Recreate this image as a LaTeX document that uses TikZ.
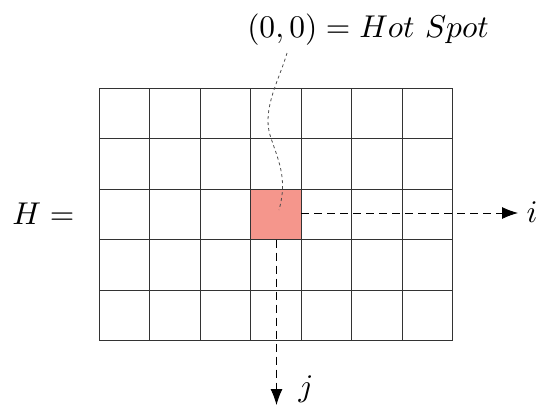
\documentclass[tikz,border=0pt]{standalone}
\usetikzlibrary{arrows.meta}
\begin{document}
\begin{tikzpicture}[x=1pt,y=-1pt,
  gridline/.style={black!80,line width=0.9pt},
  hotcell/.style={fill=hotred,draw=black!80,line width=0.9pt},
  axisarrow/.style={dash pattern=on 8pt off 5pt,line width=0.9pt,-{Latex[length=16pt,width=12pt]}},
  wiggle/.style={black!70,dash pattern=on 3pt off 3pt,line width=0.8pt},
  bigtext/.style={scale=3.15,inner sep=0pt}]
\definecolor{hotred}{RGB}{245,150,140}
\useasboundingbox (0,0) rectangle (539,405);
% hot cell
\node[hotcell,minimum width=50.5pt,minimum height=50.5pt,inner sep=0pt] (hot) at (275.75,214.25) {};
% grid
\foreach \k in {0,...,7}{\draw[gridline] (99+\k*50.5,88) -- (99+\k*50.5,340.5);}
\foreach \k in {0,...,5}{\draw[gridline] (99,88+\k*50.5) -- (452.5,88+\k*50.5);}
% labels
\node[bigtext,anchor=base] (lbl) at (368,37) {$(0,0) = Hot\ Spot$};
\node[bigtext,anchor=base east] (H) at (75,224) {$H =$};
\node[bigtext,anchor=base west] (ilbl) at (526,222) {$i$};
\node[bigtext,anchor=base west] (jlbl) at (298,396) {$j$};
% arrows
\coordinate (iend) at (518,213);
\coordinate (jend) at (276.5,405);
\draw[axisarrow] (hot.east |- 0,213) -- (iend);
\draw[axisarrow] (276.5,239.5) -- (jend);
% wiggle
\coordinate (ws) at (287,53);
\coordinate (we) at (279,210);
\draw[wiggle] (ws) .. controls (280,78) and (262,108) .. (270,135) .. controls (278,160) and (288,178) .. (we);
\end{tikzpicture}
\end{document}
